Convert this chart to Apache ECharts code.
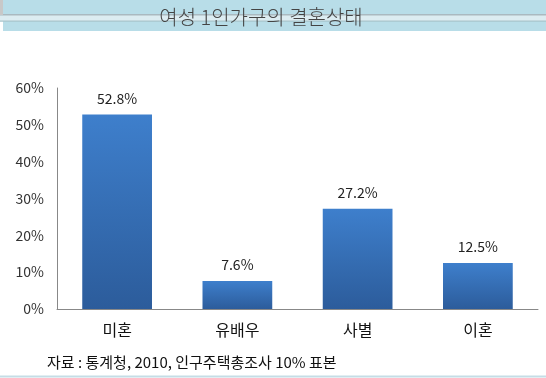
<!DOCTYPE html>
<html><head><meta charset="utf-8">
<script src="https://cdn.jsdelivr.net/npm/echarts@6/dist/echarts.min.js"></script>
<style>html,body{margin:0;padding:0;background:#fff}#c{width:546px;height:378px}</style>
</head><body><div id="c"></div>
<script>
const categories = ['미혼', '유배우', '사별', '이혼'];
const values = [52.8, 7.6, 27.2, 12.5];
const yTicks = [0, 10, 20, 30, 40, 50, 60];
const titleText = '여성 1인가구의 결혼상태';
const sourceText = '자료 : 통계청, 2010, 인구주택총조사 10% 표본';

const chart = echarts.init(document.getElementById('c'), null, {renderer: 'canvas'});
const font = '"Noto Sans CJK KR", sans-serif';
chart.setOption({
  animation: false,
  backgroundColor: '#fff',
  graphic: [
    {type: 'rect', shape: {x: 3, y: 0, width: 543, height: 31}, style: {fill: '#b8dde8'}, z: 0},
    {type: 'rect', shape: {x: 0, y: 15, width: 546, height: 6}, style: {fill: '#dcecf1'}, z: 1},
    {type: 'rect', shape: {x: 0, y: 14, width: 546, height: 1.5}, style: {fill: '#aab9c0'}, z: 1},
    {type: 'rect', shape: {x: 0, y: 20.5, width: 546, height: 1.2}, style: {fill: '#a9c4cc'}, z: 1},
    {type: 'rect', shape: {x: 0, y: 0, width: 3, height: 15}, style: {fill: '#c8c8c8'}, z: 1},
    {type: 'rect', shape: {x: 0, y: 375.5, width: 546, height: 2}, style: {fill: '#c5dde6'}, z: 1},
    {type: 'text', x: 261, y: 17, style: {text: titleText, font: '300 20px ' + font, fill: '#444', textAlign: 'center', textVerticalAlign: 'middle'}, z: 5},
    {type: 'text', x: 47, y: 362, style: {text: sourceText, font: '15px ' + font, fill: '#111', textAlign: 'left', textVerticalAlign: 'middle'}, z: 5}
  ],
  grid: {left: 57, right: 8, top: 88, bottom: 69, containLabel: false},
  xAxis: {
    type: 'category', data: categories,
    axisLine: {lineStyle: {color: '#888', width: 1}},
    axisTick: {show: false},
    axisLabel: {fontFamily: font, fontSize: 16, color: '#111', margin: 13}
  },
  yAxis: {
    type: 'value', min: yTicks[0], max: yTicks[yTicks.length - 1], interval: 10,
    axisLine: {show: true, lineStyle: {color: '#888', width: 1}},
    axisTick: {show: false},
    splitLine: {show: false},
    axisLabel: {fontFamily: font, fontSize: 14, color: '#333', margin: 13, formatter: '{value}%'}
  },
  series: [{
    type: 'bar', data: values, barWidth: '58%',
    itemStyle: {color: new echarts.graphic.LinearGradient(0, 0, 0, 1, [
      {offset: 0, color: '#3e7fcc'}, {offset: 1, color: '#2c5c9b'}
    ])},
    label: {show: true, position: 'top', distance: 9, fontFamily: font, fontSize: 14, color: '#222',
      formatter: p => p.value.toFixed(1) + '%'}
  }]
});
</script></body></html>
